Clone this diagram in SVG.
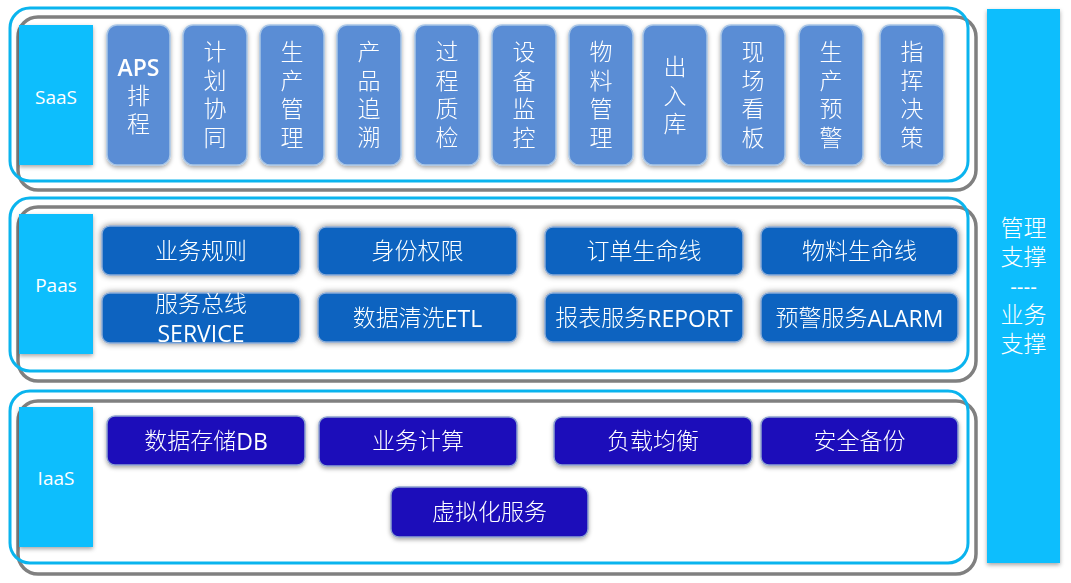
<svg xmlns="http://www.w3.org/2000/svg" width="1071" height="583" viewBox="0 0 1071 583">
<defs>
<style>
.lb{fill:none;stroke:#0AB4EE;stroke-width:3}
.lg{fill:none;stroke:#808080;stroke-width:3.5}
.lab{fill:#0ABEFD}
.labt{fill:#fff;font-family:"Open Sans","Liberation Sans",sans-serif;font-size:19px;text-anchor:middle;dominant-baseline:central}
.st{fill:#5A8DD5;stroke:#A9C6E6;stroke-width:1.5}
.pt{fill:#0763C0;stroke:#8AAAD6;stroke-width:1.5}
.it{fill:#1A0BBA;stroke:#8EA2D0;stroke-width:1.5}
.t{fill:#fff;font-family:"Open Sans","Noto Sans CJK SC",sans-serif;font-size:23px;text-anchor:middle;dominant-baseline:central}
.tc{fill:#fff;font-family:"Liberation Sans","Noto Sans CJK SC",sans-serif;font-size:23px;font-weight:300;text-anchor:middle;dominant-baseline:central}
.cj{font-family:"Liberation Sans","Noto Sans CJK SC",sans-serif;font-weight:300;font-size:23px}
</style>
<filter id="sh" x="-20%" y="-20%" width="140%" height="140%">
<feGaussianBlur in="SourceAlpha" stdDeviation="2"/>
<feOffset dx="0" dy="2" result="b"/>
<feFlood flood-color="#000" flood-opacity="0.35"/>
<feComposite in2="b" operator="in"/>
<feMerge><feMergeNode/><feMergeNode in="SourceGraphic"/></feMerge>
</filter>
<filter id="glow" x="-20%" y="-30%" width="140%" height="160%">
<feGaussianBlur in="SourceAlpha" stdDeviation="3"/>
<feOffset dx="0" dy="0" result="b"/>
<feFlood flood-color="#000" flood-opacity="0.5"/>
<feComposite in2="b" operator="in"/>
<feMerge><feMergeNode/><feMergeNode in="SourceGraphic"/></feMerge>
</filter>
</defs>
<rect width="1071" height="583" fill="#fff"/>

<g id="saas-layer">
<rect class="lg" x="18" y="17" width="958" height="173" rx="20"/>
<rect class="lb" x="10" y="8" width="958" height="173" rx="20"/>
<rect class="lab" x="19" y="25" width="74" height="140" filter="url(#sh)"/>
<text class="labt" x="56" y="97">SaaS</text>
</g>

<g id="saas-aps" filter="url(#sh)"><rect class="st" x="107" y="25" width="63" height="140" rx="10"/>
<text class="tc" x="138.5" y="67"><tspan class="t" font-size="20" font-weight="600">APS</tspan><tspan x="138.5" dy="28.7">排</tspan><tspan x="138.5" dy="28.7">程</tspan></text></g>
<g id="saas-jhxt" filter="url(#sh)"><rect class="st" x="183" y="25" width="64" height="140" rx="10"/>
<text class="tc" x="215" y="52">计<tspan x="215" dy="28.7">划</tspan><tspan x="215" dy="28.7">协</tspan><tspan x="215" dy="28.7">同</tspan></text></g>
<g id="saas-scgl" filter="url(#sh)"><rect class="st" x="260" y="25" width="64" height="140" rx="10"/>
<text class="tc" x="292" y="52">生<tspan x="292" dy="28.7">产</tspan><tspan x="292" dy="28.7">管</tspan><tspan x="292" dy="28.7">理</tspan></text></g>
<g id="saas-cpzs" filter="url(#sh)"><rect class="st" x="337" y="25" width="64" height="140" rx="10"/>
<text class="tc" x="369" y="52">产<tspan x="369" dy="28.7">品</tspan><tspan x="369" dy="28.7">追</tspan><tspan x="369" dy="28.7">溯</tspan></text></g>
<g id="saas-gczj" filter="url(#sh)"><rect class="st" x="415" y="25" width="64" height="140" rx="10"/>
<text class="tc" x="447" y="52">过<tspan x="447" dy="28.7">程</tspan><tspan x="447" dy="28.7">质</tspan><tspan x="447" dy="28.7">检</tspan></text></g>
<g id="saas-sbjk" filter="url(#sh)"><rect class="st" x="492" y="25" width="64" height="140" rx="10"/>
<text class="tc" x="524" y="52">设<tspan x="524" dy="28.7">备</tspan><tspan x="524" dy="28.7">监</tspan><tspan x="524" dy="28.7">控</tspan></text></g>
<g id="saas-wlgl" filter="url(#sh)"><rect class="st" x="569" y="25" width="64" height="140" rx="10"/>
<text class="tc" x="601" y="52">物<tspan x="601" dy="28.7">料</tspan><tspan x="601" dy="28.7">管</tspan><tspan x="601" dy="28.7">理</tspan></text></g>
<g id="saas-crk" filter="url(#sh)"><rect class="st" x="643" y="25" width="64" height="140" rx="10"/>
<text class="tc" x="675" y="67">出<tspan x="675" dy="28.7">入</tspan><tspan x="675" dy="28.7">库</tspan></text></g>
<g id="saas-xckb" filter="url(#sh)"><rect class="st" x="721" y="25" width="64" height="140" rx="10"/>
<text class="tc" x="753" y="52">现<tspan x="753" dy="28.7">场</tspan><tspan x="753" dy="28.7">看</tspan><tspan x="753" dy="28.7">板</tspan></text></g>
<g id="saas-scyj" filter="url(#sh)"><rect class="st" x="799" y="25" width="64" height="140" rx="10"/>
<text class="tc" x="831" y="52">生<tspan x="831" dy="28.7">产</tspan><tspan x="831" dy="28.7">预</tspan><tspan x="831" dy="28.7">警</tspan></text></g>
<g id="saas-zhjc" filter="url(#sh)"><rect class="st" x="880" y="25" width="64" height="140" rx="10"/>
<text class="tc" x="912" y="52">指<tspan x="912" dy="28.7">挥</tspan><tspan x="912" dy="28.7">决</tspan><tspan x="912" dy="28.7">策</tspan></text></g>

<g id="paas-layer">
<rect class="lg" x="18" y="207" width="958" height="174" rx="20"/>
<rect class="lb" x="10" y="198" width="958" height="173" rx="20"/>
<rect class="lab" x="19" y="214" width="74" height="140" filter="url(#sh)"/>
<text class="labt" x="56" y="285">Paas</text>
</g>

<g id="paas-ywgz" filter="url(#glow)"><rect class="pt" x="102" y="226" width="198" height="49" rx="8"/><text class="tc" x="201" y="250.5">业务规则</text></g>
<g id="paas-sfqx" filter="url(#glow)"><rect class="pt" x="318" y="227" width="199" height="48" rx="8"/><text class="tc" x="417.5" y="251">身份权限</text></g>
<g id="paas-ddsmx" filter="url(#glow)"><rect class="pt" x="545" y="227" width="198" height="48" rx="8"/><text class="tc" x="644" y="251">订单生命线</text></g>
<g id="paas-wlsmx" filter="url(#glow)"><rect class="pt" x="761" y="227" width="197" height="48" rx="8"/><text class="tc" x="859.5" y="251">物料生命线</text></g>
<g id="paas-fwzx" filter="url(#glow)"><rect class="pt" x="102" y="293" width="198" height="50" rx="8"/><text class="tc" x="201" y="304">服务总线<tspan class="t" x="201" dy="29" font-size="21" font-weight="400">SERVICE</tspan></text></g>
<g id="paas-sjqx" filter="url(#glow)"><rect class="pt" x="318" y="293" width="199" height="49" rx="8"/><text class="t" x="417.5" y="318"><tspan class="cj">数据清洗</tspan>ETL</text></g>
<g id="paas-bbfw" filter="url(#glow)"><rect class="pt" x="545" y="293" width="198" height="49" rx="8"/><text class="t" x="644" y="318" font-size="21.5"><tspan class="cj">报表服务</tspan>REPORT</text></g>
<g id="paas-yjfw" filter="url(#glow)"><rect class="pt" x="761" y="293" width="197" height="49" rx="8"/><text class="t" x="859.5" y="318" font-size="21.5"><tspan class="cj">预警服务</tspan>ALARM</text></g>

<g id="iaas-layer">
<rect class="lg" x="18" y="401" width="958" height="173" rx="20"/>
<rect class="lb" x="10" y="391" width="958" height="172" rx="20"/>
<rect class="lab" x="19" y="407" width="74" height="140" filter="url(#sh)"/>
<text class="labt" x="56" y="478">IaaS</text>
</g>

<g id="iaas-sjcc" filter="url(#sh)"><rect class="it" x="107" y="416" width="198" height="49" rx="8"/><text class="t" x="206" y="441"><tspan class="cj">数据存储</tspan>DB</text></g>
<g id="iaas-ywjs" filter="url(#sh)"><rect class="it" x="319" y="417" width="198" height="49" rx="8"/><text class="tc" x="418" y="441">业务计算</text></g>
<g id="iaas-fzjh" filter="url(#sh)"><rect class="it" x="554" y="417" width="198" height="48" rx="8"/><text class="tc" x="653" y="441">负载均衡</text></g>
<g id="iaas-aqbf" filter="url(#sh)"><rect class="it" x="761" y="417" width="197" height="48" rx="8"/><text class="tc" x="859.5" y="441">安全备份</text></g>
<g id="iaas-xnh" filter="url(#sh)"><rect class="it" x="391" y="487" width="197" height="50" rx="8"/><text class="tc" x="489.5" y="512">虚拟化服务</text></g>

<g id="support-bar">
<rect class="lab" x="987" y="9" width="73" height="554" filter="url(#sh)"/>
<text class="tc" x="1023.5" y="228">管理<tspan x="1023.5" dy="29">支撑</tspan><tspan x="1023.5" dy="30" font-family="Liberation Sans" font-size="20" font-weight="400">----</tspan><tspan x="1023.5" dy="28">业务</tspan><tspan x="1023.5" dy="29">支撑</tspan></text>
</g>

<g id="connectors"></g>
</svg>
